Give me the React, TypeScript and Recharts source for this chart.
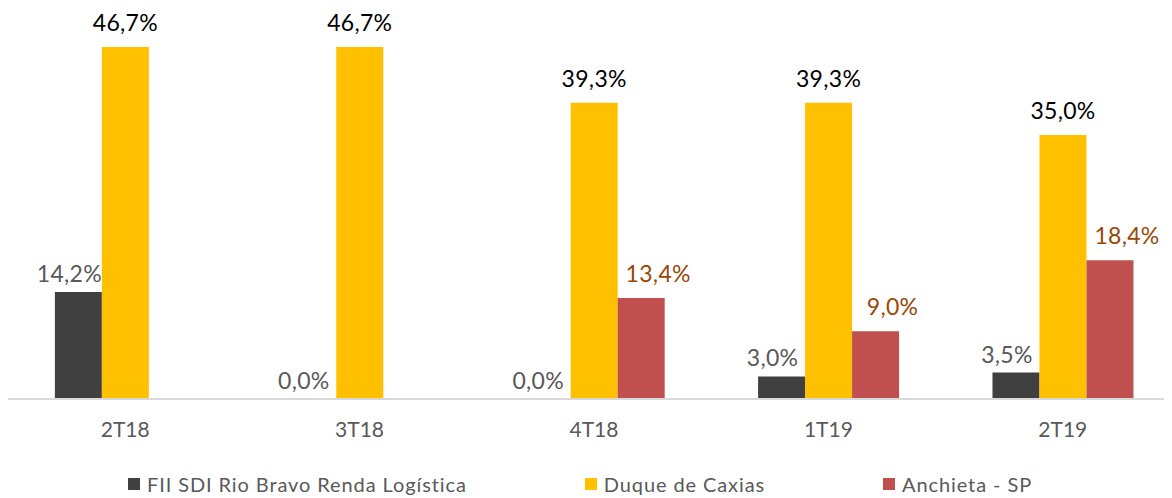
import React from 'react';
import { BarChart, Bar, XAxis, YAxis, Legend, LabelList } from 'recharts';

const categories = ['2T18', '3T18', '4T18', '1T19', '2T19'];
const fiiSdi = [14.2, 0.0, 0.0, 3.0, 3.5];
const duqueCaxias = [46.7, 46.7, 39.3, 39.3, 35.0];
const anchieta: (number | null)[] = [null, null, 13.4, 9.0, 18.4];

const seriesNames = ['FII SDI Rio Bravo Renda Logística', 'Duque de Caxias', 'Anchieta - SP'];
const seriesColors = ['#404040', '#FFC000', '#C0504D'];
const labelColors = ['#595959', '#000000', '#984807'];

const data = categories.map((c, i) => ({
  cat: c,
  fii: fiiSdi[i],
  duque: duqueCaxias[i],
  anchieta: anchieta[i],
}));

const FONT = 'Lato, "Open Sans", sans-serif';

const fmt = (v: number) => v.toFixed(1).replace('.', ',') + '%';

const makeLabel = (color: string, dx: number, gap: number) => (props: any) => {
  const { x, y, width, value } = props;
  if (value === null || value === undefined) return null;
  return (
    <text
      x={Number(x) + Number(width) / 2 + dx}
      y={Number(y) - gap}
      textAnchor="middle"
      fill={color}
      fontSize={23}
      fontFamily={FONT}
      letterSpacing={0.3}
    >
      {fmt(Number(value))}
    </text>
  );
};

const LegendContent = () => (
  <div
    style={{
      display: 'flex',
      justifyContent: 'center',
      gap: 118,
      paddingTop: 33,
      paddingRight: 28,
      fontFamily: FONT,
      fontSize: 20,
      letterSpacing: 0.9,
      color: '#595959',
    }}
  >
    {seriesNames.map((n, i) => (
      <div key={n} style={{ display: 'flex', alignItems: 'center' }}>
        <span
          style={{
            display: 'inline-block',
            width: 12,
            height: 12,
            background: seriesColors[i],
            marginRight: 7,
          }}
        />
        <span>{n}</span>
      </div>
    ))}
  </div>
);

export default function App() {
  return (
    <div style={{ width: 1164, height: 490, overflow: 'hidden' }}>
      <BarChart
        width={1172}
        height={490}
        data={data}
        margin={{ top: 14, right: 0, bottom: 0, left: 0 }}
        barCategoryGap="20%"
        barGap={0}
      >
        <XAxis
          dataKey="cat"
          axisLine={{ stroke: '#D9D9D9', strokeWidth: 2 }}
          tickLine={false}
          height={40}
          tick={{ fill: '#595959', fontSize: 21, fontFamily: FONT }}
          tickMargin={17}
        />
        <YAxis hide domain={[0, 50]} />
        <Legend verticalAlign="bottom" height={59} content={<LegendContent />} />
        <Bar
          dataKey="fii"
          name={seriesNames[0]}
          fill={seriesColors[0]}
          minPointSize={0.01}
          isAnimationActive={false}
        >
          <LabelList dataKey="fii" content={makeLabel(labelColors[0], -9, 10)} />
        </Bar>
        <Bar dataKey="duque" name={seriesNames[1]} fill={seriesColors[1]} isAnimationActive={false}>
          <LabelList dataKey="duque" content={makeLabel(labelColors[1], 0, 16)} />
        </Bar>
        <Bar dataKey="anchieta" name={seriesNames[2]} fill={seriesColors[2]} isAnimationActive={false}>
          <LabelList dataKey="anchieta" content={makeLabel(labelColors[2], 17, 16)} />
        </Bar>
      </BarChart>
    </div>
  );
}
